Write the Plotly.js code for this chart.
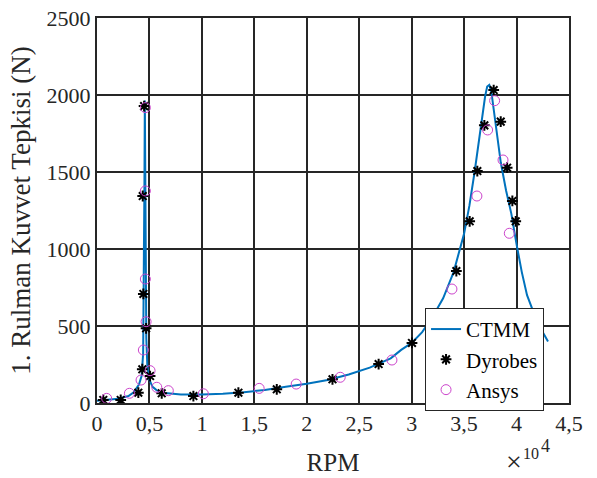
<!DOCTYPE html>
<html>
<head>
<meta charset="utf-8">
<script src="https://cdn.plot.ly/plotly-3.0.1.min.js"></script>
<style>html,body{margin:0;padding:0;background:#fff;}#chart{width:597px;height:478px;}</style>
</head>
<body>
<div id="chart"></div>
<script>
// CTMM curve (RPM, N)
const ctmmX = [0,1000,2000,3000,3500,4000,4250,4400,4470,4520,4560,4600,4650,4700,4800,5000,5300,5700,6500,8000,10000,12000,14000,16000,18000,20000,22000,24000,26000,28000,29000,30000,31000,32000,33000,34000,35000,35500,36000,36500,37000,37200,37400,37600,37800,38000,38500,39000,39500,40000,40500,41000,41500,42000,43000];
const ctmmY = [15,20,28,45,70,120,175,320,800,1400,1965,1400,800,420,240,150,105,82,65,56,55,60,70,85,105,125,150,185,230,290,345,390,460,560,680,850,1100,1280,1500,1760,1990,2055,2065,2020,1920,1790,1560,1380,1230,1030,850,700,610,520,400];
// Dyrobes points
const dyroX = [600,2260,3940,4320,4360,4420,4680,4490,5060,6170,9190,13480,17140,22450,26850,30030,34260,35530,36260,36930,37820,38490,39100,39600,39920];
const dyroY = [20,20,67,219,1344,708,485,1928,175,63,45,67,89,154,253,390,857,1180,1506,1803,2032,1827,1528,1312,1180];
// Ansys points
const ansysX = [920,3090,4200,4420,4680,4610,4610,4610,5060,5700,6800,10140,15460,18990,23190,28120,33840,36220,37240,37910,38710,39310];
const ansysY = [30,63,149,344,528,805,1377,1918,210,102,80,60,95,123,167,279,740,1344,1773,1963,1578,1102];
// Axis ticks
const xTickVals = [0,5000,10000,15000,20000,25000,30000,35000,40000,45000];
const xTickText = ["0","0,5","1","1,5","2","2,5","3","3,5","4","4,5"];
const yTickVals = [0,500,1000,1500,2000,2500];

const serif = "Liberation Serif, Times New Roman, Times, serif";
const ink = "#262626";
const traces = [
  {x: ctmmX, y: ctmmY, type: "scatter", mode: "lines", name: "CTMM",
   line: {color: "#0072BD", width: 2}},
  {x: dyroX, y: dyroY, type: "scatter", mode: "markers", name: "Dyrobes",
   marker: {symbol: "asterisk-open", size: 9, color: "#000", line: {color: "#000", width: 2}}},
  {x: ansysX, y: ansysY, type: "scatter", mode: "markers", name: "Ansys",
   marker: {symbol: "circle-open", size: 10, color: "#cc44cc", line: {color: "#cc44cc", width: 1}}}
];
const layout = {
  width: 597, height: 478,
  margin: {l: 97, r: 28, t: 18, b: 75},
  paper_bgcolor: "#fff", plot_bgcolor: "#fff",
  font: {family: serif, size: 22, color: ink},
  showlegend: true,
  legend: {x: 0.695, y: 0.247, xanchor: "left", yanchor: "top",
           bgcolor: "#fff", bordercolor: ink, borderwidth: 1,
           entrywidth: 92, entrywidthmode: "pixels",
           font: {family: serif, size: 21, color: "#000"}, tracegroupgap: 0},
  xaxis: {range: [0, 45000], tickvals: xTickVals, ticktext: xTickText,
          tickfont: {family: serif, size: 22, color: ink},
          showgrid: true, gridcolor: ink, gridwidth: 2,
          showline: true, linecolor: ink, linewidth: 2, mirror: true,
          zeroline: false, ticks: "", ticklen: 0,
          title: {text: "RPM", font: {family: serif, size: 25, color: ink}, standoff: 18}},
  yaxis: {range: [0, 2500], tickvals: yTickVals,
          tickfont: {family: serif, size: 22, color: ink},
          showgrid: true, gridcolor: ink, gridwidth: 2,
          showline: true, linecolor: ink, linewidth: 2, mirror: true,
          zeroline: false, ticks: "", ticklen: 0,
          title: {text: "1. Rulman Kuvvet Tepkisi (N)", font: {family: serif, size: 27, color: ink}, standoff: 8}},
  annotations: [
    {xref: "paper", yref: "paper", x: 0.862, y: -0.152, xanchor: "left", yanchor: "middle",
     text: "×", showarrow: false, font: {family: serif, size: 28, color: ink}},
    {xref: "paper", yref: "paper", x: 0.898, y: -0.132, xanchor: "left", yanchor: "middle",
     text: "10", showarrow: false, font: {family: serif, size: 16, color: ink}},
    {xref: "paper", yref: "paper", x: 0.936, y: -0.112, xanchor: "left", yanchor: "middle",
     text: "4", showarrow: false, font: {family: serif, size: 18, color: ink}}
  ]
};
Plotly.newPlot("chart", traces, layout, {displayModeBar: false, staticPlot: true});
</script>
</body>
</html>
